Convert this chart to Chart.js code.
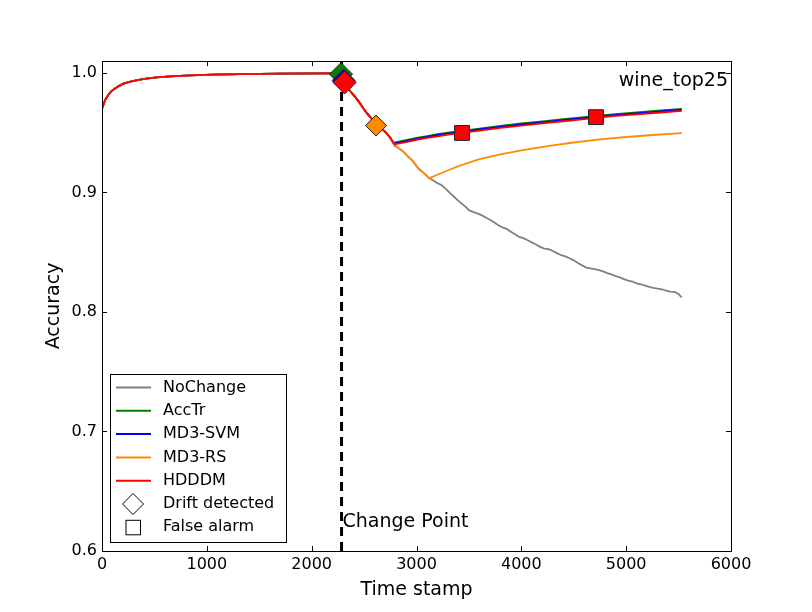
<!DOCTYPE html>
<html>
<head>
<meta charset="utf-8">
<script src="https://cdn.jsdelivr.net/npm/chart.js@4/dist/chart.umd.min.js"></script>
<style>
  body { margin: 0; background: #fff; }
  canvas { display: block; }
</style>
</head>
<body>
<canvas id="accChart" width="812" height="612"></canvas>
<script>
// shared part before the change (all methods identical)
const startT = [0, 13, 30, 60, 90, 124, 160, 203, 280, 362, 440, 522, 650, 840, 1050, 1316, 1700, 2111, 2285];
const startAcc = [0.9700, 0.9732, 0.9775, 0.9816, 0.9848, 0.9870, 0.9890, 0.9910, 0.9930, 0.9945, 0.9955, 0.9963, 0.9972, 0.9980, 0.9986, 0.9991, 0.9994, 0.9996, 0.9997];

// drop right after the change point
const dropT = [2300, 2334, 2370, 2413, 2450, 2493, 2530, 2570, 2620, 2660, 2700, 2747, 2789];
const dropAcc = [0.9935, 0.9885, 0.9845, 0.9802, 0.9760, 0.9704, 0.9660, 0.9620, 0.9565, 0.9535, 0.9509, 0.9462, 0.9403];

// NoChange and MD3-RS keep falling a bit longer
const fallT = [2830, 2874, 2920, 2970, 3018, 3065, 3122];
const fallAcc = [0.9370, 0.9342, 0.9300, 0.9258, 0.9200, 0.9166, 0.9120];

const noChangeT = [3160, 3200, 3240, 3280, 3320, 3360, 3400, 3440, 3470, 3500, 3540, 3580, 3620, 3660, 3700, 3740, 3780, 3820, 3860, 3900, 3940, 3980, 4020, 4060, 4100, 4140, 4180, 4220, 4260, 4300, 4340, 4380, 4420, 4460, 4500, 4540, 4580, 4620, 4660, 4700, 4740, 4780, 4820, 4860, 4900, 4940, 4980, 5020, 5060, 5100, 5140, 5180, 5220, 5260, 5300, 5340, 5380, 5420, 5460, 5500, 5530];
const noChangeAcc = [0.9100, 0.9078, 0.9060, 0.9030, 0.8995, 0.8962, 0.8930, 0.8900, 0.8880, 0.8852, 0.8838, 0.8825, 0.8810, 0.8790, 0.8772, 0.8750, 0.8725, 0.8708, 0.8695, 0.8672, 0.8650, 0.8628, 0.8618, 0.8600, 0.8582, 0.8565, 0.8545, 0.8530, 0.8525, 0.8510, 0.8492, 0.8475, 0.8465, 0.8450, 0.8432, 0.8410, 0.8390, 0.8372, 0.8365, 0.8358, 0.8350, 0.8340, 0.8325, 0.8315, 0.8300, 0.8290, 0.8275, 0.8262, 0.8255, 0.8240, 0.8232, 0.8220, 0.8210, 0.8202, 0.8195, 0.8190, 0.8178, 0.8170, 0.8168, 0.8150, 0.8122];

const rsT = [3200, 3300, 3400, 3600, 3800, 4000, 4250, 4500, 4750, 5000, 5250, 5530];
const rsAcc = [0.9148, 0.9186, 0.9220, 0.9278, 0.9318, 0.9352, 0.9388, 0.9418, 0.9444, 0.9464, 0.9481, 0.9497];

// recovery of AccTr, MD3-SVM, HDDDM
const recoverT = [2900, 3000, 3100, 3200, 3300, 3434, 3600, 3800, 4000, 4200, 4400, 4600, 4712, 4900, 5100, 5300, 5530];
const hdddmAcc = [0.9422, 0.9440, 0.9456, 0.9470, 0.9484, 0.9498, 0.9518, 0.9540, 0.9560, 0.9578, 0.9596, 0.9614, 0.9625, 0.9640, 0.9654, 0.9667, 0.9683];
const svmAcc = [0.9430, 0.9448, 0.9464, 0.9479, 0.9492, 0.9507, 0.9527, 0.9549, 0.9569, 0.9587, 0.9605, 0.9623, 0.9633, 0.9648, 0.9662, 0.9676, 0.9692];
const accTrAcc = [0.9438, 0.9456, 0.9472, 0.9487, 0.9500, 0.9515, 0.9535, 0.9557, 0.9577, 0.9595, 0.9613, 0.9631, 0.9641, 0.9656, 0.9670, 0.9684, 0.9700];
const recoverStart = { accTr: 0.9418, svm: 0.9410, hdddm: 0.9403 };

// markers: drift detected (AccTr, MD3-SVM, HDDDM, MD3-RS) and false alarms (HDDDM)
const driftT = [2280, 2305, 2314, 2614];
const driftAcc = [0.9990, 0.9936, 0.9920, 0.9560];
const driftColors = ["#0b7a0b", "#0000ff", "#ff0000", "#ff8c00"];
const alarmT = [3434, 4712];
const alarmAcc = [0.9498, 0.9630];

const changeT = 2285;
const xTicks = [0, 1000, 2000, 3000, 4000, 5000, 6000];
const yTicks = [0.6, 0.7, 0.8, 0.9, 1.0];

const FONT = '"DejaVu Sans", "Liberation Sans", sans-serif';

function pts(xs, ys) {
    return xs.map(function (x, i) { return { x: x, y: ys[i] }; });
}

const base = pts(startT, startAcc).concat(pts(dropT, dropAcc));
const fallen = base.concat(pts(fallT, fallAcc));

function lineSet(label, color, data, order) {
    return {
        label: label,
        data: data,
        borderColor: color,
        backgroundColor: color,
        borderWidth: 1.8,
        pointRadius: 0,
        fill: false,
        tension: 0,
        order: order,
    };
}

const legendRows = [
    { label: "NoChange", color: "#808080" },
    { label: "AccTr", color: "#008000" },
    { label: "MD3-SVM", color: "#0000ff" },
    { label: "MD3-RS", color: "#ff8c00" },
    { label: "HDDDM", color: "#ff0000" },
    { label: "Drift detected", marker: "diamond" },
    { label: "False alarm", marker: "square" },
];

const datasets = [
    lineSet("NoChange", "#808080", fallen.concat(pts(noChangeT, noChangeAcc)), 10),
    lineSet("AccTr", "#008000", base.concat([{ x: 2789, y: recoverStart.accTr }], pts(recoverT, accTrAcc)), 9),
    lineSet("MD3-SVM", "#0000ff", base.concat([{ x: 2789, y: recoverStart.svm }], pts(recoverT, svmAcc)), 8),
    lineSet("MD3-RS", "#ff8c00", fallen.concat(pts(rsT, rsAcc)), 7),
    lineSet("HDDDM", "#ff0000", base.concat([{ x: 2789, y: recoverStart.hdddm }], pts(recoverT, hdddmAcc)), 6),
    {
        label: "Change Point",
        data: [{ x: changeT, y: 0.6 }, { x: changeT, y: 1.01 }],
        borderColor: "#000",
        borderWidth: 3,
        borderDash: [9, 6],
        pointRadius: 0,
        order: 5,
    },
];
driftT.forEach(function (t, i) {
    datasets.push({
        label: "Drift detected",
        data: [{ x: t, y: driftAcc[i] }],
        showLine: false,
        pointStyle: "rectRot",
        pointRadius: i < 3 ? 11.5 : 10.5,
        pointBackgroundColor: driftColors[i],
        pointBorderColor: "#222",
        pointBorderWidth: 1,
        order: 4 - i * 0.1,
    });
});
datasets.push({
    label: "False alarm",
    data: pts(alarmT, alarmAcc),
    showLine: false,
    pointStyle: "rect",
    pointRadius: 10.5,
    pointBackgroundColor: "#ff0000",
    pointBorderColor: "#222",
    pointBorderWidth: 1,
    order: 1,
});

const frameAndNotes = {
    id: "frameAndNotes",
    afterDraw: function (chart) {
        const ctx = chart.ctx;
        const a = chart.chartArea;
        const x = chart.scales.x;
        const y = chart.scales.y;
        ctx.save();
        ctx.strokeStyle = "#000";
        ctx.lineWidth = 1;

        // inward ticks on all four sides
        ctx.beginPath();
        xTicks.forEach(function (v) {
            const px = Math.round(x.getPixelForValue(v)) + 0.5;
            ctx.moveTo(px, a.bottom);
            ctx.lineTo(px, a.bottom - 5);
            ctx.moveTo(px, a.top);
            ctx.lineTo(px, a.top + 5);
        });
        yTicks.forEach(function (v) {
            const py = Math.round(y.getPixelForValue(v)) + 0.5;
            ctx.moveTo(a.left, py);
            ctx.lineTo(a.left + 5, py);
            ctx.moveTo(a.right, py);
            ctx.lineTo(a.right - 5, py);
        });
        ctx.stroke();
        ctx.strokeRect(a.left + 0.5, a.top + 0.5, a.right - a.left, a.bottom - a.top);

        // annotations
        ctx.fillStyle = "#000";
        ctx.font = "19px " + FONT;
        ctx.textBaseline = "alphabetic";
        ctx.textAlign = "left";
        ctx.fillText("Change Point", x.getPixelForValue(changeT) + 1, y.getPixelForValue(0.62));
        ctx.textAlign = "right";
        ctx.fillText("wine_top25", a.right - 3, 86);

        // legend box
        const lx = 110, ly = 374, lw = 176, lh = 168;
        ctx.fillStyle = "#fff";
        ctx.fillRect(lx, ly, lw, lh);
        ctx.strokeRect(lx + 0.5, ly + 0.5, lw, lh);
        ctx.font = "16px " + FONT;
        ctx.textAlign = "left";
        ctx.textBaseline = "middle";
        legendRows.forEach(function (row, i) {
            const cy = 387.5 + i * 23.3;
            if (row.marker === "diamond") {
                ctx.beginPath();
                ctx.moveTo(133 - 10.5, cy);
                ctx.lineTo(133, cy - 10.5);
                ctx.lineTo(133 + 10.5, cy);
                ctx.lineTo(133, cy + 10.5);
                ctx.closePath();
                ctx.strokeStyle = "#000";
                ctx.lineWidth = 1;
                ctx.stroke();
            } else if (row.marker === "square") {
                ctx.strokeStyle = "#000";
                ctx.lineWidth = 1;
                ctx.strokeRect(126, cy - 7, 14.5, 14.5);
            } else {
                ctx.beginPath();
                ctx.moveTo(116, cy);
                ctx.lineTo(151, cy);
                ctx.strokeStyle = row.color;
                ctx.lineWidth = 2;
                ctx.stroke();
            }
            ctx.fillStyle = "#000";
            ctx.fillText(row.label, 163, cy);
        });
        ctx.restore();
    },
};

new Chart(document.getElementById("accChart").getContext("2d"), {
    type: "line",
    data: { datasets: datasets },
    options: {
        responsive: false,
        animation: false,
        events: [],
        layout: { padding: { top: 61, right: 81, left: 0, bottom: 0 } },
        plugins: { legend: { display: false }, tooltip: { enabled: false } },
        scales: {
            x: {
                type: "linear",
                min: 0,
                max: 6000,
                grid: { display: false, drawTicks: false },
                border: { display: false },
                afterBuildTicks: function (s) { s.ticks = xTicks.map(function (v) { return { value: v }; }); },
                afterFit: function (s) { s.height = 61; },
                ticks: {
                    color: "#000",
                    padding: 4,
                    maxRotation: 0,
                    font: { family: FONT, size: 16 },
                    callback: function (v) { return String(v); },
                },
                title: {
                    display: true,
                    text: "Time stamp",
                    color: "#000",
                    font: { family: FONT, size: 19, lineHeight: 1.2 },
                    padding: { top: 0, bottom: 11 },
                },
            },
            y: {
                type: "linear",
                min: 0.6,
                max: 1.01,
                grid: { display: false, drawTicks: false },
                border: { display: false },
                afterBuildTicks: function (s) { s.ticks = yTicks.map(function (v) { return { value: v }; }); },
                afterFit: function (s) { s.width = 102; },
                ticks: {
                    color: "#000",
                    padding: 5,
                    font: { family: FONT, size: 16 },
                    callback: function (v) { return v.toFixed(1); },
                },
                title: {
                    display: true,
                    text: "Accuracy",
                    color: "#000",
                    font: { family: FONT, size: 19, lineHeight: 1.2 },
                    padding: { top: 42.6, bottom: 0 },
                },
            },
        },
    },
    plugins: [frameAndNotes],
});
</script>
</body>
</html>
